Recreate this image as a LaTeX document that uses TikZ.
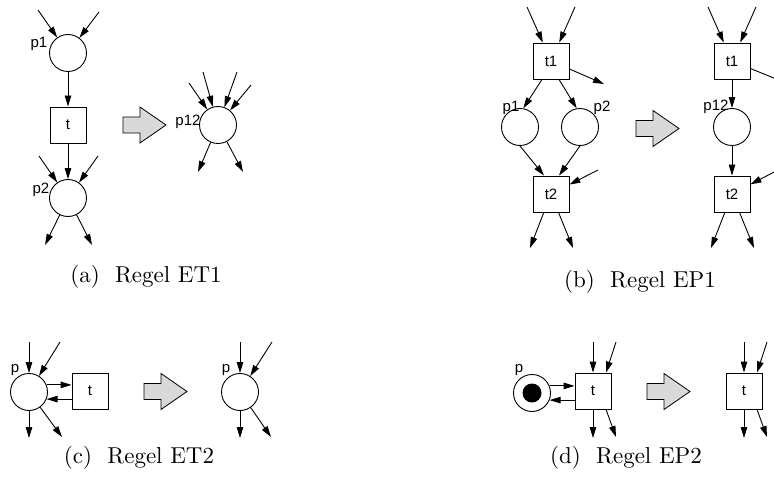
\documentclass[tikz,border=0pt]{standalone}
\usepackage{fontspec}
\newfontfamily\netfont{Liberation Sans}
\newfontfamily\captfont{lmroman10-regular.otf}
\usetikzlibrary{arrows.meta,positioning,calc}

\begin{document}
\begin{tikzpicture}[x=1pt,y=-1pt,line width=0.9pt,
  place/.style={circle,draw,minimum size=37pt,inner sep=0pt},
  trans/.style={rectangle,draw,minimum size=36pt,inner sep=0pt,font=\netfont\fontsize{15}{18}\selectfont},
  lbl/.style={inner sep=0pt,font=\netfont\fontsize{15}{18}\selectfont},
  arc/.style={-{Triangle[length=11pt,width=6.5pt]}},
  bigarrow/.style={draw,fill=black!15,line width=0.8pt},
  capt/.style={anchor=base,font=\captfont\fontsize{23}{27}\selectfont}]
  \useasboundingbox (0,0) rectangle (774,484);
  % (a) Regel ET1
  \node[place] (p1) at (68,53) {};
  \node[trans] (t) at (68,125) {t};
  \node[place] (p2) at (68,198) {};
  \node[lbl] (p1name) at (39,44) {p1};
  \node[lbl] (p2name) at (41,190) {p2};
  \coordinate (a1) at (38,10);  \coordinate (a2) at (99,12);
  \coordinate (a3) at (39,156); \coordinate (a4) at (98,156);
  \coordinate (a5) at (45,245); \coordinate (a6) at (92,245);
  \draw[arc] (a1) -- (p1); \draw[arc] (a2) -- (p1);
  \draw[arc] (p1) -- (t);  \draw[arc] (t) -- (p2);
  \draw[arc] (a3) -- (p2); \draw[arc] (a4) -- (p2);
  \draw[arc] (p2) -- (a5); \draw[arc] (p2) -- (a6);
  \node[place] (p12) at (218,125) {};
  \node[lbl] (p12name) at (188,122) {p12};
  \coordinate (b1) at (189,83);  \coordinate (b2) at (203,72);
  \coordinate (b3) at (237,72);  \coordinate (b4) at (251,85);
  \coordinate (b5) at (198,172); \coordinate (b6) at (243,172);
  \foreach \c in {b1,b2,b3,b4} \draw[arc] (\c) -- (p12);
  \draw[arc] (p12) -- (b5); \draw[arc] (p12) -- (b6);
  \node[capt] (capa) at (146,282) {(a)~ Regel ET1};
  % (b) Regel EP1
  \node[trans] (t1) at (551,61) {t1};
  \node[place] (q1) at (520,127) {};
  \node[place] (q2) at (580,127) {};
  \node[trans] (t2) at (551,194) {t2};
  \node[lbl] (q1name) at (511,108) {p1};
  \node[lbl] (q2name) at (602,108) {p2};
  \coordinate (c1) at (527,7);   \coordinate (c2) at (575,7);
  \coordinate (c3) at (604,84);  \coordinate (c4) at (598,170);
  \coordinate (c5) at (530,248); \coordinate (c6) at (573,248);
  \draw[arc] (c1) -- (t1); \draw[arc] (c2) -- (t1);
  \draw[arc] (t1) -- (c3);
  \draw[arc] ([xshift=-9]t1.south) -- (q1.80);
  \draw[arc] ([xshift=8]t1.south) -- (q2.100);
  \draw[arc] (q1.south) -- ([xshift=-7]t2.north);
  \draw[arc] (q2.south) -- ([xshift=8]t2.north);
  \draw[arc] (c4) -- (t2);
  \draw[arc] (t2) -- (c5); \draw[arc] (t2) -- (c6);
  \node[trans] (t1r) at (732,61) {t1};
  \node[place] (q12) at (732,127) {};
  \node[trans] (t2r) at (732,194) {t2};
  \node[lbl] (q12name) at (716,107) {p12};
  \coordinate (d1) at (708,7);   \coordinate (d2) at (756,7);
  \coordinate (d3) at (786,83);  \coordinate (d4) at (778,170);
  \coordinate (d5) at (711,248); \coordinate (d6) at (754,248);
  \draw[arc] (d1) -- (t1r); \draw[arc] (d2) -- (t1r);
  \draw[arc] (t1r) -- (d3);
  \draw[arc] (t1r) -- (q12); \draw[arc] (q12) -- (t2r);
  \draw[arc] (d4) -- (t2r);
  \draw[arc] (t2r) -- (d5); \draw[arc] (t2r) -- (d6);
  \node[capt] (capb) at (640,287) {(b)~ Regel EP1};
  % (c) Regel ET2
  \node[place] (p) at (29,392) {};
  \node[trans] (tc) at (90,391) {t};
  \node[lbl] (pname) at (15,370) {p};
  \coordinate (e1) at (29,342);  \coordinate (e2) at (60,342);
  \coordinate (e3) at (29,438);  \coordinate (e4) at (62,437);
  \draw[arc] (e1) -- (p); \draw[arc] (e2) -- (p);
  \draw[arc] (p) -- (e3); \draw[arc] (p) -- (e4);
  \draw[arc] (p.22) -- (p.22 -| tc.west);
  \draw[arc] (p.-22 -| tc.west) -- (p.-22);
  \node[place] (pr) at (240,392) {};
  \node[lbl] (prname) at (226,370) {p};
  \coordinate (e5) at (240,342); \coordinate (e6) at (272,342);
  \coordinate (e7) at (240,438); \coordinate (e8) at (271,437);
  \draw[arc] (e5) -- (pr); \draw[arc] (e6) -- (pr);
  \draw[arc] (pr) -- (e7); \draw[arc] (pr) -- (e8);
  \node[capt] (capc) at (139,463) {(c)~ Regel ET2};
  % (d) Regel EP2
  \node[place] (pd) at (532,393) {};
  \node[circle,fill=black,minimum size=19pt,inner sep=0pt] (token) at (pd) {};
  \node[trans] (td) at (593,391) {t};
  \node[lbl] (pdname) at (519,370) {p};
  \coordinate (f1) at (593,342); \coordinate (f2) at (616,342);
  \coordinate (f3) at (593,438); \coordinate (f4) at (616,437);
  \draw[arc] (f1) -- (td); \draw[arc] (f2) -- ([xshift=13]td.north);
  \draw[arc] (td) -- (f3); \draw[arc] ([xshift=13]td.south) -- (f4);
  \draw[arc] (pd.22) -- (pd.22 -| td.west);
  \draw[arc] (pd.-22 -| td.west) -- (pd.-22);
  \node[trans] (tdr) at (744,391) {t};
  \coordinate (g1) at (744,342); \coordinate (g2) at (767,342);
  \coordinate (g3) at (744,438); \coordinate (g4) at (767,437);
  \draw[arc] (g1) -- (tdr); \draw[arc] (g2) -- ([xshift=13]tdr.north);
  \draw[arc] (tdr) -- (g3); \draw[arc] ([xshift=13]tdr.south) -- (g4);
  \node[capt] (capd) at (626,463) {(d)~ Regel EP2};
  % rule arrows
  \foreach \ax/\ay in {123/125,636/128.5,144/391.5,647/391.5}
    \draw[bigarrow] (\ax,\ay-8) -- ++(17,0) -- ++(0,-10) -- (\ax+43,\ay)
      -- (\ax+17,\ay+18) -- ++(0,-10) -- (\ax,\ay+8) -- cycle;
\end{tikzpicture}
\end{document}
